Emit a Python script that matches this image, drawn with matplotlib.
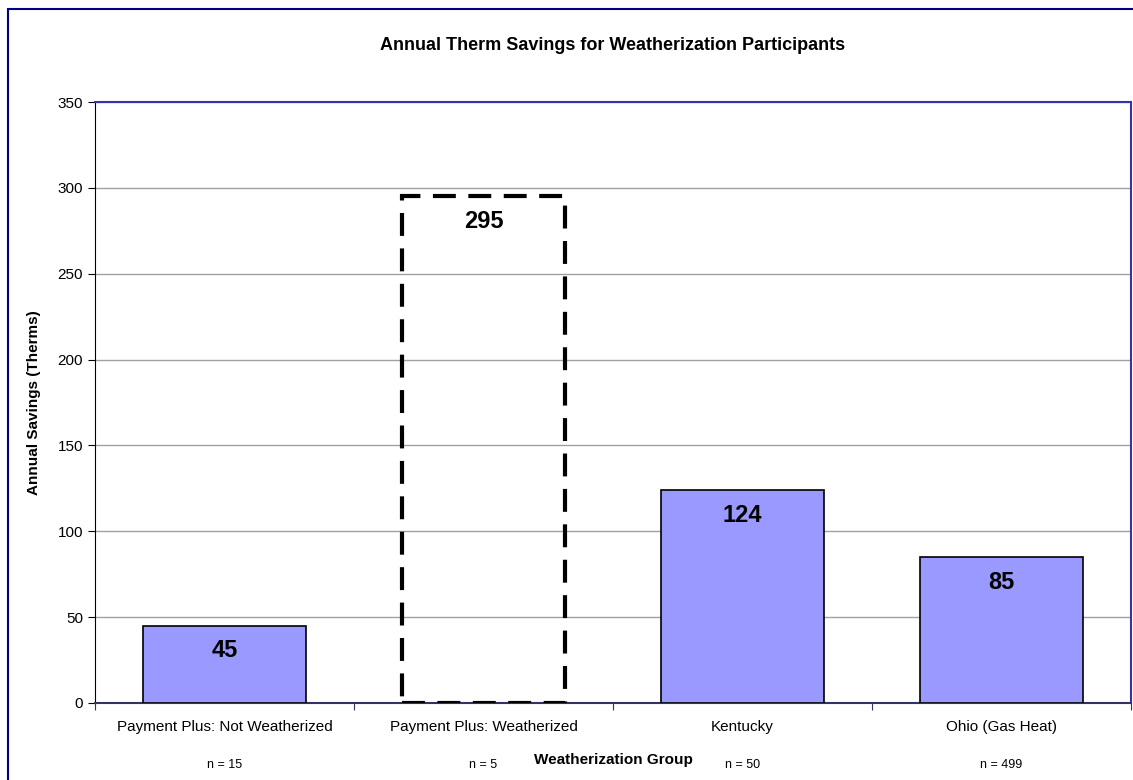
import matplotlib.pyplot as plt
from matplotlib.patches import Rectangle

plt.rcParams['font.family'] = ['Liberation Sans', 'DejaVu Sans']

# Datos
grupos = ['Payment Plus: Not Weatherized', 'Payment Plus: Weatherized',
          'Kentucky', 'Ohio (Gas Heat)']
ahorros = [45, 295, 124, 85]
tamanos = ['n = 15', 'n = 5', 'n = 50', 'n = 499']
discontinua = [False, True, False, False]

W, H = 1133, 780
fig = plt.figure(figsize=(W / 100, H / 100), dpi=100)

# Marco exterior (cortado a la derecha y abajo)
fig.patches.append(Rectangle((8 / W, -0.1), 1.2, 1 - 9 / H + 0.1,
                             transform=fig.transFigure, fill=False,
                             edgecolor='#000080', linewidth=1.5))

ax = fig.add_axes([95 / W, 1 - 703 / H, (1131 - 95) / W, (703 - 102) / H])

x = list(range(len(grupos)))
for xi, v, d in zip(x, ahorros, discontinua):
    if d:
        ax.bar(xi, v, width=0.63, facecolor='none', edgecolor='black',
               linewidth=3, linestyle=(0, (5.5, 3)), zorder=3)
    else:
        ax.bar(xi, v, width=0.63, color='#9999FF', edgecolor='black',
               linewidth=1.2, zorder=3)
    ax.text(xi, v - 8, str(v), ha='center', va='top', fontsize=17,
            fontweight='bold', zorder=4)

ax.set_xlim(-0.5, 3.5)
ax.set_ylim(0, 350)
ax.set_yticks(range(0, 351, 50))
ax.yaxis.grid(True, color='#a0a0a0', linewidth=1)
ax.set_axisbelow(True)

# Ticks entre categorías
ax.set_xticks([-0.5, 0.5, 1.5, 2.5, 3.5])
ax.set_xticklabels([])
ax.tick_params(axis='x', length=5, color='#333366')
ax.tick_params(axis='y', length=5, labelsize=11)
for xi, g, n in zip(x, grupos, tamanos):
    ax.text(xi, -14, g, ha='center', va='center', fontsize=11,
            clip_on=False)
    ax.text(xi, -36, n, ha='center', va='center', fontsize=9,
            clip_on=False)

ax.spines['left'].set_color('black')
ax.spines['bottom'].set_color('#333366')
ax.spines['bottom'].set_linewidth(1.5)
ax.spines['top'].set_color('#3333aa')
ax.spines['right'].set_color('#3333aa')
ax.spines['top'].set_linewidth(1.5)
ax.spines['right'].set_linewidth(1.5)

ax.set_ylabel('Annual Savings (Therms)', fontsize=11, fontweight='bold',
              labelpad=12)
fig.text(613 / W, 1 - 760 / H, 'Weatherization Group', ha='center',
         va='center', fontsize=11, fontweight='bold')
fig.text(613 / W, 1 - 45 / H, 'Annual Therm Savings for Weatherization Participants',
         ha='center', va='center', fontsize=13, fontweight='bold')

fig.savefig('out.png', dpi=100)
